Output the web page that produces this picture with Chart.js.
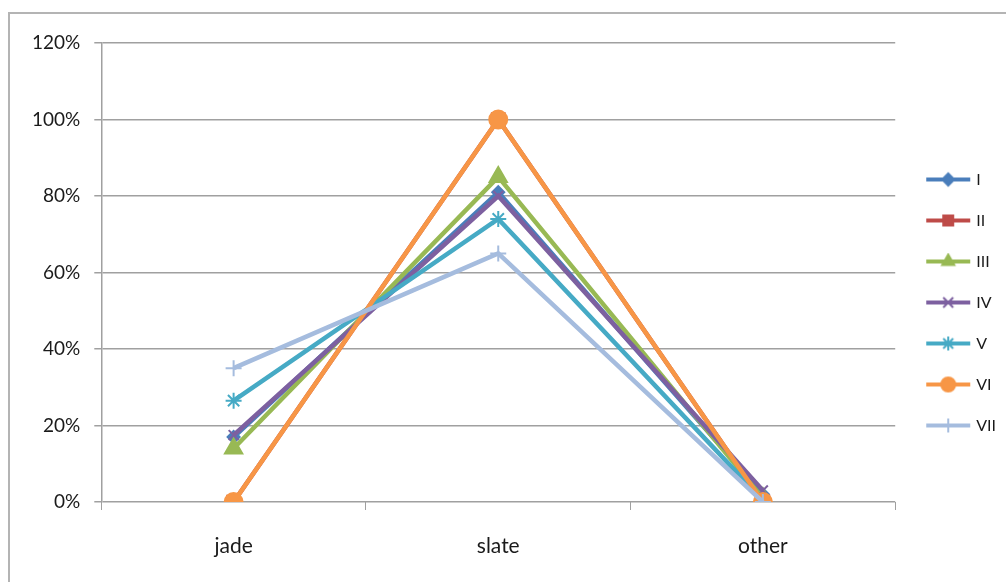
<!DOCTYPE html>
<html>
<head>
    <title>Share by category</title>
    <script src="https://cdn.jsdelivr.net/npm/chart.js"></script>
    <style>
        html, body { margin: 0; padding: 0; background: #fff; }
        #frame { position: absolute; left: 8px; top: 12px; width: 998px; height: 570px;
                 border-left: 2px solid #b4b4b4; border-top: 2px solid #b4b4b4; box-sizing: border-box; }
        #wrap { position: absolute; left: 0; top: 0; width: 1006px; height: 582px; }
    </style>
</head>
<body>
<div id="frame"></div>
<div id="wrap"><canvas id="shareChart" width="1006" height="582"></canvas></div>
<script>
    const categories = ['jade', 'slate', 'other'];
    const seriesNames = ['I', 'II', 'III', 'IV', 'V', 'VI', 'VII'];
    const seriesI = [0.17, 0.81, 0.02];
    const seriesII = [0, 1.00, 0];
    const seriesIII = [0.14, 0.85, 0.01];
    const seriesIV = [0.175, 0.80, 0.03];
    const seriesV = [0.265, 0.74, 0.005];
    const seriesVI = [0, 1.00, 0];
    const seriesVII = [0.35, 0.65, 0];
    const yTicks = [0, 0.2, 0.4, 0.6, 0.8, 1.0, 1.2];

    const colors = ['#4a7ebb', '#be4b48', '#98b954', '#7d60a0', '#46aac5', '#f79646', '#a5bcde'];
    const markers = ['rectRot', 'rect', 'triangle', 'crossRot', 'star', 'circle', 'cross'];
    const radii = [6, 9, 10, 7, 8, 9, 8];
    const values = [seriesI, seriesII, seriesIII, seriesIV, seriesV, seriesVI, seriesVII];

    // small picture of line + marker for each legend entry
    function legendIcon(i) {
        const c = document.createElement('canvas');
        c.width = 50; c.height = 18;
        const ctx = c.getContext('2d');
        ctx.strokeStyle = colors[i];
        ctx.lineWidth = 4;
        ctx.beginPath(); ctx.moveTo(2, 9); ctx.lineTo(46, 9); ctx.stroke();
        ctx.fillStyle = colors[i];
        ctx.lineWidth = 2;
        Chart.helpers.drawPoint(ctx, {pointStyle: markers[i], radius: Math.min(radii[i], 7), rotation: 0, borderWidth: 2}, 24, 9);
        return c;
    }

    const datasets = values.map((v, i) => ({
        label: seriesNames[i],
        data: v,
        borderColor: colors[i],
        backgroundColor: colors[i],
        borderWidth: 4.5,
        pointStyle: markers[i],
        pointRadius: radii[i],
        pointBorderWidth: 2,
        pointBorderColor: colors[i],
        order: 7 - i,
        tension: 0
    }));

    const ctx = document.getElementById('shareChart').getContext('2d');
    new Chart(ctx, {
        type: 'line',
        data: { labels: categories, datasets: datasets },
        options: {
            responsive: false,
            animation: false,
            layout: { padding: { left: 18, top: 43, right: 0, bottom: 20 } },
            plugins: {
                tooltip: { enabled: false },
                legend: {
                    position: 'right',
                    labels: {
                        usePointStyle: true,
                        pointStyleWidth: 38,
                        padding: 25,
                        color: '#1a1a1a',
                        font: { family: 'Lato', size: 16 },
                        sort: (a, b) => a.datasetIndex - b.datasetIndex,
                        generateLabels: chart => chart.data.datasets.map((d, i) => ({
                            text: d.label,
                            pointStyle: legendIcon(i),
                            fillStyle: colors[i],
                            strokeStyle: colors[i],
                            lineWidth: 0,
                            fontColor: '#1a1a1a',
                            datasetIndex: i
                        }))
                    }
                }
            },
            scales: {
                x: {
                    offset: true,
                    afterFit: s => { s.height = 60; },
                    grid: { display: true, offset: true, drawOnChartArea: false, drawTicks: true, tickLength: 8, color: '#a0a0a0' },
                    border: { display: false },
                    ticks: { color: '#1a1a1a', font: { family: 'Lato', size: 21 }, padding: 24 }
                },
                y: {
                    min: 0,
                    max: 1.2,
                    afterBuildTicks: axis => { axis.ticks = yTicks.map(v => ({ value: v })); },
                    grid: { color: '#a0a0a0', lineWidth: 1.5, tickLength: 7 },
                    border: { display: true, color: '#a0a0a0', width: 1.5 },
                    ticks: {
                        color: '#1a1a1a',
                        font: { family: 'Lato', size: 19 },
                        padding: 14,
                        callback: v => Math.round(v * 100) + '%'
                    }
                },
                gap: {
                    position: 'right',
                    display: true,
                    afterFit: s => { s.width = 10; },
                    grid: { display: false },
                    border: { display: false },
                    ticks: { display: false }
                }
            }
        }
    });
</script>
</body>
</html>
